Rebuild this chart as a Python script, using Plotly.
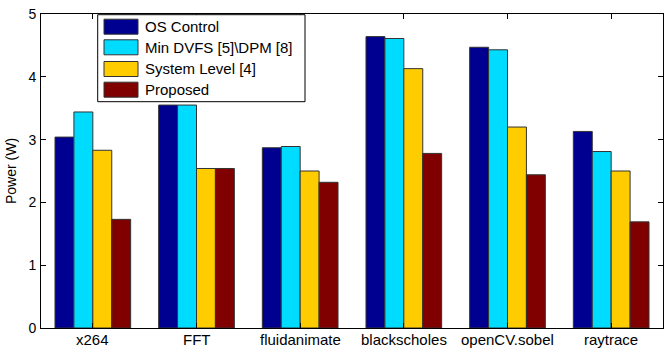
import plotly.graph_objects as go

categories = ["x264", "FFT", "fluidanimate", "blackscholes", "openCV.sobel", "raytrace"]
series_names = ["OS Control", "Min DVFS [5]\\DPM [8]", "System Level [4]", "Proposed"]
os_control = [3.04, 3.55, 2.87, 4.64, 4.47, 3.13]
min_dvfs = [3.44, 3.55, 2.89, 4.61, 4.43, 2.81]
system_level = [2.83, 2.54, 2.50, 4.13, 3.20, 2.50]
proposed = [1.73, 2.54, 2.32, 2.78, 2.44, 1.69]
y_ticks = [0, 1, 2, 3, 4, 5]

colors = ["#000090", "#00DCFF", "#FFCC00", "#800000"]
values = [os_control, min_dvfs, system_level, proposed]

W, H = 668, 348
L, R, T, B = 41, 5, 14, 20
pw, ph = W - L - R, H - T - B

def px(x):
    return (x - L) / pw

def py(y):
    return 1 - (y - T) / ph

fig = go.Figure()
for name, vals, c in zip(series_names, values, colors):
    fig.add_trace(go.Bar(x=categories, y=vals, name=name,
                         marker=dict(color=c, line=dict(color="#333333", width=1)),
                         showlegend=False))

font = "Liberation Sans, Arial, Helvetica, sans-serif"

shapes = [dict(type="rect", xref="paper", yref="paper",
               x0=px(97.7), x1=px(305), y0=py(101.7), y1=py(14.7),
               line=dict(color="black", width=1), fillcolor="white", layer="above")]
annotations = []
row_y = [26.7, 47.3, 69, 89.7]
for name, c, ry in zip(series_names, colors, row_y):
    shapes.append(dict(type="rect", xref="paper", yref="paper",
                       x0=px(104), x1=px(138), y0=py(ry + 7.5), y1=py(ry - 7.5),
                       line=dict(color="#333333", width=1), fillcolor=c, layer="above"))
    annotations.append(dict(xref="paper", yref="paper", x=px(142.5), y=py(ry),
                            xanchor="left", yanchor="middle", text=name, showarrow=False,
                            font=dict(family=font, size=15, color="black")))

# category labels under the axis
for cat in categories:
    annotations.append(dict(xref="x", yref="paper", x=cat, y=0, yshift=-1,
                            xanchor="center", yanchor="top", text=cat, showarrow=False,
                            font=dict(family=font, size=15, color="black")))

fig.update_layout(
    template="none",
    width=W, height=H,
    margin=dict(l=L, r=R, t=T, b=B, autoexpand=False),
    paper_bgcolor="white", plot_bgcolor="white",
    barmode="group", bargap=0.27, bargroupgap=0,
    font=dict(family=font, size=14, color="black"),
    shapes=shapes, annotations=annotations,
    xaxis=dict(showline=True, linecolor="black", linewidth=1, mirror="ticks",
               ticks="inside", ticklen=5, tickcolor="black", automargin=False,
               showgrid=False, zeroline=False,
               range=[-0.5, 5.5], showticklabels=False),
    yaxis=dict(showline=True, linecolor="black", linewidth=1, mirror="ticks",
               ticks="inside", ticklen=5, tickcolor="black", automargin=False,
               range=[0, 5], tickvals=y_ticks, showgrid=False, zeroline=False,
               tickfont=dict(size=14), ticklabelstandoff=1,
               title=dict(text="Power (W)", font=dict(size=14), standoff=8)),
)

fig.write_html("out.html", config={"displayModeBar": False},
               post_script="document.body.style.margin='0px';")
